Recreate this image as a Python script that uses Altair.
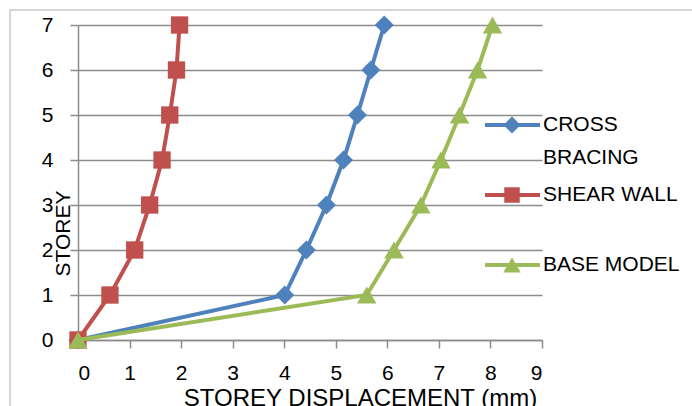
import altair as alt
import pandas as pd

storey = [0, 1, 2, 3, 4, 5, 6, 7]
cross_bracing = [0, 4.01, 4.43, 4.82, 5.15, 5.42, 5.68, 5.94]
shear_wall = [0, 0.62, 1.10, 1.39, 1.63, 1.78, 1.91, 1.97]
base_model = [0, 5.60, 6.13, 6.65, 7.04, 7.40, 7.75, 8.04]

series_names = ["CROSS BRACING", "SHEAR WALL", "BASE MODEL"]
series_values = [cross_bracing, shear_wall, base_model]
series_colors = ["#4f81bd", "#c0504d", "#9bbb59"]
series_shapes = ["diamond", "square", "triangle-up"]
series_sizes = [360, 300, 380]
legend_lines = [["CROSS", "BRACING"], ["SHEAR WALL"], ["BASE MODEL"]]

x_ticks = [0, 1, 2, 3, 4, 5, 6, 7, 8, 9]
y_ticks = [0, 1, 2, 3, 4, 5, 6, 7]

W, H = 464, 315
FONT = "Liberation Sans"
GRID = "#8c8c8c"

x_enc = alt.X(
    "disp:Q",
    scale=alt.Scale(domain=[0, 9], nice=False),
    axis=alt.Axis(
        values=x_ticks, grid=False, title="STOREY DISPLACEMENT (mm)",
        labelPadding=14, titleX=282, titleY=65, titleAlign="center",
        titleBaseline="alphabetic", titleFontSize=24,
    ),
)
y_enc = alt.Y(
    "storey:Q",
    scale=alt.Scale(domain=[0, 7], nice=False),
    axis=alt.Axis(
        values=y_ticks, grid=True, title="STOREY", labelPadding=17,
        titleX=-15, titleY=208, titleAngle=270, titleAlign="center",
        titleBaseline="middle", titleFontSize=21,
    ),
)

border = alt.Chart(pd.DataFrame({"a": [0]})).mark_rect(
    fill="transparent", stroke="#c8c8c8", strokeWidth=1.5
).encode(
    x=alt.value(-68), x2=alt.value(660), y=alt.value(-15), y2=alt.value(520)
)

layers = [border]
for name, vals, col, shp, sz in zip(series_names, series_values, series_colors, series_shapes, series_sizes):
    d = pd.DataFrame({"disp": vals, "storey": storey, "series": name})
    base = alt.Chart(d).encode(x=x_enc, y=y_enc)
    layers.append(base.mark_line(color=col, strokeWidth=4))
    layers.append(base.mark_point(filled=True, shape=shp, size=sz, color=col, opacity=1))

# legend (drawn manually to mirror the wrapped labels)
for i, (name, col, shp, sz) in enumerate(zip(series_names, series_colors, series_shapes, series_sizes)):
    ly = 100 + 70 * i
    one = alt.Chart(pd.DataFrame({"series": [name]}))
    layers.append(one.mark_rule(color=col, strokeWidth=4).encode(
        x=alt.value(407), x2=alt.value(462), y=alt.value(ly)))
    layers.append(one.mark_point(filled=True, shape=shp, size=sz * 0.8, color=col, opacity=1).encode(
        x=alt.value(434), y=alt.value(ly)))
    for j, line in enumerate(legend_lines[i]):
        layers.append(alt.Chart(pd.DataFrame({"t": [line]})).mark_text(
            align="left", baseline="middle", font=FONT, fontSize=21, color="#000000"
        ).encode(text="t:N", x=alt.value(465), y=alt.value(ly + 33 * j)))

chart = alt.layer(*layers).properties(
    width=W, height=H,
    autosize=alt.AutoSizeParams(type="none"),
    padding={"left": 78, "top": 25, "right": 150, "bottom": 66},
    background="white",
).configure_view(stroke=None).configure_axis(
    domainColor=GRID, domainWidth=1.5, tickColor=GRID, tickWidth=1.5, tickSize=8,
    gridColor=GRID, gridWidth=1.5, labelFont=FONT, labelFontSize=21, labelColor="#000000",
    titleFont=FONT, titleFontWeight="normal", titleColor="#000000",
)

chart.save("out.html", embed_options={"renderer": "svg", "actions": False})
